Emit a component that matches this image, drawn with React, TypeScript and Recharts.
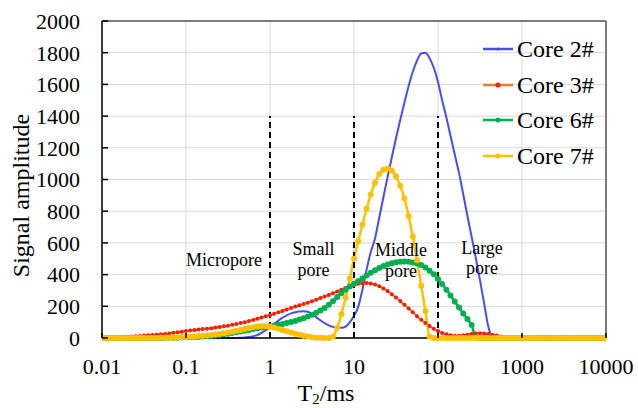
import React from 'react';
import {
  LineChart,
  Line,
  XAxis,
  YAxis,
  CartesianGrid,
  ReferenceLine,
  ReferenceDot,
  Legend,
} from 'recharts';

// T2 relaxation times (ms), 20 points per decade
const T2 = [
  0.01, 0.0112, 0.0126, 0.0141, 0.0158, 0.0178, 0.02, 0.0224, 0.0251, 0.0282, 0.0316, 0.0355, 0.0398, 0.0447, 0.0501, 0.0562, 0.0631, 0.0708, 0.0794, 0.0891,
  0.1, 0.112, 0.126, 0.141, 0.158, 0.178, 0.2, 0.224, 0.251, 0.282, 0.316, 0.355, 0.398, 0.447, 0.501, 0.562, 0.631, 0.708, 0.794, 0.891,
  1, 1.12, 1.26, 1.41, 1.58, 1.78, 2, 2.24, 2.51, 2.82, 3.16, 3.55, 3.98, 4.47, 5.01, 5.62, 6.31, 7.08, 7.94, 8.91,
  10, 11.2, 12.6, 14.1, 15.8, 17.8, 20, 22.4, 25.1, 28.2, 31.6, 35.5, 39.8, 44.7, 50.1, 56.2, 63.1, 70.8, 79.4, 89.1,
  100, 112, 126, 141, 158, 178, 200, 224, 251, 282, 316, 355, 398, 447, 501, 562, 631, 708, 794, 891,
  1000, 1120, 1260, 1410, 1580, 1780, 2000, 2240, 2510, 2820, 3160, 3550, 3980, 4470, 5010, 5620, 6310, 7080, 7940, 8910,
  10000,
];

const core2 = [
  0, 0, 0, 0, 0, 0, 0, 0, 0, 0, 0, 0, 0, 0, 0, 0, 0, 0, 0, 0,
  0, 0, 0, 0, 0, 0, 0, 0, 0, 0, 0, 0, 0, 1, 3, 6, 11, 19, 32, 50,
  70, 90, 110, 128, 143, 155, 163, 167, 168, 165, 150, 132, 112, 94, 80, 70, 64, 64, 72, 98,
  140, 195, 305, 430, 540, 630, 760, 890, 1015, 1140, 1260, 1375, 1485, 1590, 1680, 1750, 1795, 1800, 1765, 1705,
  1615, 1500, 1390, 1275, 1160, 1040, 905, 770, 640, 505, 365, 215, 70, 8, 0, 0, 0, 0, 0, 0,
  0, 0, 0, 0, 0, 0, 0, 0, 0, 0, 0, 0, 0, 0, 0, 0, 0, 0, 0, 0,
  0,
];

const core3 = [
  1, 2, 3, 4, 5, 6, 8, 9, 11, 13, 15, 17, 19, 21, 23, 26, 29, 33, 37, 40,
  44, 47, 50, 53, 56, 59, 62, 66, 70, 74, 78, 83, 88, 94, 100, 107, 114, 122, 130, 137,
  145, 153, 162, 171, 180, 189, 198, 206, 214, 223, 232, 242, 252, 262, 272, 283, 294, 305, 316, 326,
  335, 342, 346, 347, 344, 337, 327, 313, 296, 276, 255, 233, 210, 186, 162, 138, 115, 94, 75, 58,
  44, 32, 23, 17, 14, 14, 17, 21, 26, 29, 30, 29, 26, 21, 15, 10, 6, 3, 1, 0,
  0, 0, 0, 0, 0, 0, 0, 0, 0, 0, 0, 0, 0, 0, 0, 0, 0, 0, 0, 0,
  0,
];

const core6 = [
  0, 0, 0, 0, 0, 0, 0, 0, 0, 0, 0, 0, 0, 0, 0, 1, 1, 2, 2, 3,
  4, 5, 6, 7, 9, 11, 13, 16, 19, 23, 27, 31, 36, 41, 46, 51, 56, 61, 66, 70,
  74, 78, 83, 88, 94, 101, 108, 116, 125, 135, 146, 159, 173, 190, 210, 232, 258, 282, 305, 325,
  342, 358, 376, 394, 412, 428, 442, 454, 464, 472, 478, 481, 482, 481, 477, 470, 460, 445, 425, 402,
  372, 340, 305, 268, 230, 192, 155, 120, 82, 5, 0, 0, 0, 0, 0, 0, 0, 0, 0, 0,
  0, 0, 0, 0, 0, 0, 0, 0, 0, 0, 0, 0, 0, 0, 0, 0, 0, 0, 0, 0,
  0,
];

const core7 = [
  0, 0, 0, 0, 0, 0, 0, 0, 0, 0, 0, 0, 0, 0, 1, 1, 2, 3, 4, 5,
  7, 8, 10, 12, 14, 16, 19, 22, 26, 30, 35, 40, 45, 51, 57, 63, 68, 72, 75, 74,
  71, 66, 59, 51, 43, 35, 27, 20, 14, 9, 5, 2, 1, 0, 0, 10, 65, 150, 255, 375,
  500, 610, 715, 815, 905, 980, 1035, 1062, 1070, 1055, 1020, 960, 880, 770, 640, 490, 330, 170, 10, 0,
  0, 0, 0, 0, 0, 0, 0, 0, 0, 0, 0, 0, 0, 0, 0, 0, 0, 0, 0, 0,
  0, 0, 0, 0, 0, 0, 0, 0, 0, 0, 0, 0, 0, 0, 0, 0, 0, 0, 0, 0,
  0,
];

const xTicks = [0.01, 0.1, 1, 10, 100, 1000, 10000];
const yTicks = [0, 200, 400, 600, 800, 1000, 1200, 1400, 1600, 1800, 2000];
const boundaries = [1, 10, 100];
const boundaryTop = 1400;

const annotations = [
  { text: 'Micropore', x: 0.283, y: 492 },
  { text: 'Small', x: 3.3, y: 561 },
  { text: 'pore', x: 3.3, y: 429 },
  { text: 'Middle', x: 36.3, y: 555 },
  { text: 'pore', x: 36.3, y: 423 },
  { text: 'Large', x: 334, y: 568 },
  { text: 'pore', x: 334, y: 442 },
];

const seriesNames = ['Core 2#', 'Core 3#', 'Core 6#', 'Core 7#'];

const FONT = "'Liberation Serif', 'Times New Roman', serif";

const data = T2.map((t, i) => ({
  t,
  c2: core2[i],
  c3: core3[i],
  c6: core6[i],
  c7: core7[i],
}));

const series = [
  { key: 'c2', name: seriesNames[0], line: '#4B4BF5', dot: '#4B4BF5', r: 0, width: 2, legendR: 1.5 },
  { key: 'c3', name: seriesNames[1], line: '#F07A30', dot: '#FF1A00', r: 2, width: 2, legendR: 2.5 },
  { key: 'c6', name: seriesNames[2], line: '#00B050', dot: '#00B050', r: 3, width: 2.5, legendR: 2.5 },
  { key: 'c7', name: seriesNames[3], line: '#FFC000', dot: '#FFC000', r: 3, width: 2.5, legendR: 2.5 },
];

const X_TICK_MARGIN = 20;
const Y_TICK_MARGIN = 22;

const XTick = (props: any) => {
  const { x, y, payload } = props;
  const axisY = y - X_TICK_MARGIN;
  return (
    <g>
      <line x1={x} x2={x} y1={axisY} y2={axisY - 5} stroke="#000" strokeWidth={1.5} />
      <text x={x} y={y} dy="0.71em" textAnchor="middle" fontSize={22} fontFamily={FONT} fill="#000">
        {String(payload.value)}
      </text>
    </g>
  );
};

const YTick = (props: any) => {
  const { x, y, payload } = props;
  const axisX = x + Y_TICK_MARGIN;
  return (
    <g>
      <line x1={axisX} x2={axisX + 6} y1={y} y2={y} stroke="#000" strokeWidth={1.5} />
      <text x={x} y={y} dy="0.355em" textAnchor="end" fontSize={22} fontFamily={FONT} fill="#000">
        {String(payload.value)}
      </text>
    </g>
  );
};

const XTitle = (props: any) => {
  const vb = props.viewBox || { x: 0, y: 0, width: 0, height: 0 };
  const cx = vb.x + vb.width / 2 - 28;
  const by = vb.y + 63;
  return (
    <text x={cx} y={by} textAnchor="middle" fontSize={24} fontFamily={FONT} fill="#000">
      T<tspan fontSize={15} dy={3}>2</tspan>
      <tspan dy={-3}>/ms</tspan>
    </text>
  );
};

const YTitle = (props: any) => {
  const vb = props.viewBox || { x: 0, y: 0, width: 0, height: 0 };
  const bx = vb.x + 29;
  const cy = vb.y + vb.height / 2 + 16;
  return (
    <text
      x={bx}
      y={cy}
      textAnchor="middle"
      fontSize={24}
      fontFamily={FONT}
      fill="#000"
      transform={`rotate(-90, ${bx}, ${cy})`}
    >
      Signal amplitude
    </text>
  );
};

const LegendContent = () => (
  <div style={{ fontFamily: FONT, fontSize: 24, color: '#000' }}>
    {series.map((s) => (
      <div key={s.key} style={{ display: 'flex', alignItems: 'center', height: 35.7 }}>
        <svg width={30} height={10} style={{ display: 'block' }}>
          <line x1={0} x2={30} y1={5} y2={5} stroke={s.line} strokeWidth={2.5} />
          <circle cx={15} cy={5} r={s.legendR} fill={s.dot} />
        </svg>
        <span style={{ marginLeft: 4, lineHeight: '24px' }}>{s.name}</span>
      </div>
    ))}
  </div>
);

export default function App() {
  return (
    <div style={{ position: 'absolute', left: 0, top: 0, width: 638, height: 408, background: '#fff' }}>
      <LineChart
        width={638}
        height={408}
        data={data}
        margin={{ top: 21, right: 32, bottom: 0, left: 0 }}
        style={{ fontFamily: FONT }}
      >
        <CartesianGrid stroke="#d9d9d9" strokeWidth={1} />
        <XAxis
          dataKey="t"
          type="number"
          scale="log"
          domain={[0.01, 10000]}
          ticks={xTicks}
          interval={0}
          allowDataOverflow
          height={70}
          tickSize={0}
          tickMargin={X_TICK_MARGIN}
          tickLine={false}
          tick={<XTick />}
          axisLine={{ stroke: '#000', strokeWidth: 1.5 }}
          label={<XTitle />}
        />
        <YAxis
          type="number"
          domain={[0, 2000]}
          ticks={yTicks}
          interval={0}
          width={102}
          tickSize={0}
          tickMargin={Y_TICK_MARGIN}
          tickLine={false}
          tick={<YTick />}
          axisLine={{ stroke: '#000', strokeWidth: 1.5 }}
          label={<YTitle />}
        />
        <ReferenceLine y={2000} stroke="#595959" strokeWidth={1.5} />
        <ReferenceLine x={10000} stroke="#595959" strokeWidth={1.5} />
        {series.map((s) => (
          <Line
            key={s.key}
            dataKey={s.key}
            name={s.name}
            type="monotone"
            stroke={s.line}
            strokeWidth={s.width}
            dot={s.r > 0 ? { r: s.r, fill: s.dot, stroke: 'none' } : false}
            activeDot={false}
            isAnimationActive={false}
          />
        ))}
        {boundaries.map((b) => (
          <ReferenceLine
            key={'b' + b}
            segment={[
              { x: b, y: 0 },
              { x: b, y: boundaryTop },
            ]}
            stroke="#000"
            strokeWidth={2}
            strokeDasharray="6 4"
          />
        ))}
        {annotations.map((a, i) => (
          <ReferenceDot
            key={'a' + i}
            x={a.x}
            y={a.y}
            r={0}
            fill="none"
            stroke="none"
            label={{ value: a.text, position: 'center', fontSize: 18, fill: '#000', fontFamily: FONT }}
          />
        ))}
        <Legend
          layout="vertical"
          align="center"
          verticalAlign="middle"
          content={<LegendContent />}
          wrapperStyle={{ top: 31, left: 483, width: 150, height: 145, right: 'auto', bottom: 'auto' }}
        />
      </LineChart>
    </div>
  );
}
